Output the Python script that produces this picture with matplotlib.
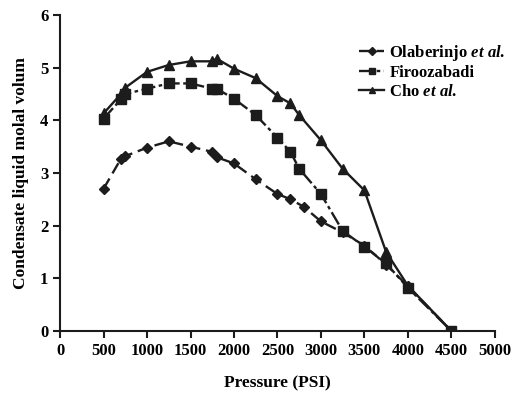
import matplotlib
matplotlib.use("Agg")
import matplotlib.pyplot as plt

plt.rcParams['font.family'] = ['Liberation Serif', 'DejaVu Serif']
plt.rcParams['mathtext.fontset'] = 'custom'
plt.rcParams['mathtext.it'] = 'Liberation Serif:italic:bold'
plt.rcParams['mathtext.rm'] = 'Liberation Serif:bold'

# Olaberinjo et al.
ola_p = [500, 700, 750, 1000, 1250, 1500, 1750, 1800, 2000, 2250, 2500, 2650, 2800, 3000, 3250, 3500, 3750, 4000, 4500]
ola_v = [2.7, 3.27, 3.32, 3.48, 3.6, 3.5, 3.4, 3.3, 3.18, 2.88, 2.6, 2.5, 2.36, 2.08, 1.87, 1.62, 1.26, 0.85, 0.0]

# Firoozabadi
fir_p = [500, 700, 750, 1000, 1250, 1500, 1750, 1800, 2000, 2250, 2500, 2650, 2750, 3000, 3250, 3500, 3750, 4000, 4500]
fir_v = [4.03, 4.4, 4.5, 4.6, 4.7, 4.7, 4.6, 4.6, 4.41, 4.1, 3.67, 3.4, 3.08, 2.6, 1.9, 1.6, 1.28, 0.82, 0.0]

# Cho et al.
cho_p = [500, 700, 750, 1000, 1250, 1500, 1750, 1800, 2000, 2250, 2500, 2650, 2750, 3000, 3250, 3500, 3750, 4000, 4500]
cho_v = [4.13, 4.5, 4.62, 4.92, 5.05, 5.12, 5.12, 5.17, 4.98, 4.8, 4.46, 4.32, 4.1, 3.62, 3.08, 2.67, 1.5, 0.86, 0.0]

col = '#1c1c1c'

fig = plt.figure(figsize=(5.32, 4.05), dpi=100)
ax = fig.add_axes([0.113, 0.183, 0.817, 0.78])

ax.plot(ola_p, ola_v, color=col, linestyle=(0, (5, 2.5)), linewidth=1.7,
        marker='D', markersize=5.5, label=r'Olaberinjo $et\ al.$')
ax.plot(fir_p, fir_v, color=col, linestyle=(0, (6, 1.5, 1.5, 1.5)), linewidth=1.7,
        marker='s', markersize=6.5, label='Firoozabadi')
ax.plot(cho_p, cho_v, color=col, linestyle='-', linewidth=1.7,
        marker='^', markersize=6.5, label=r'Cho $et\ al.$')

ax.set_xlim(0, 5000)
ax.set_ylim(0, 6)
ax.set_xticks(range(0, 5001, 500))
ax.set_yticks(range(0, 7))
for s in ['top', 'right']:
    ax.spines[s].set_visible(False)
for s in ['left', 'bottom']:
    ax.spines[s].set_linewidth(1.5)
    ax.spines[s].set_color(col)
ax.tick_params(axis='both', direction='out', length=5, width=1.5, color=col,
               labelsize=12)
for lbl in ax.get_xticklabels() + ax.get_yticklabels():
    lbl.set_fontweight('bold')

ax.set_xlabel('Pressure (PSI)', fontsize=12.5, fontweight='bold', labelpad=12)
ax.set_ylabel('Condensate liquid molal volum', fontsize=12.5, fontweight='bold', labelpad=8)

leg = ax.legend(loc='upper right', bbox_to_anchor=(1.06, 0.96), frameon=False,
                handlelength=1.5, handletextpad=0.3, labelspacing=0.15,
                prop={'size': 12, 'weight': 'bold'}, markerscale=0.75)

plt.savefig('out.png', dpi=100)
